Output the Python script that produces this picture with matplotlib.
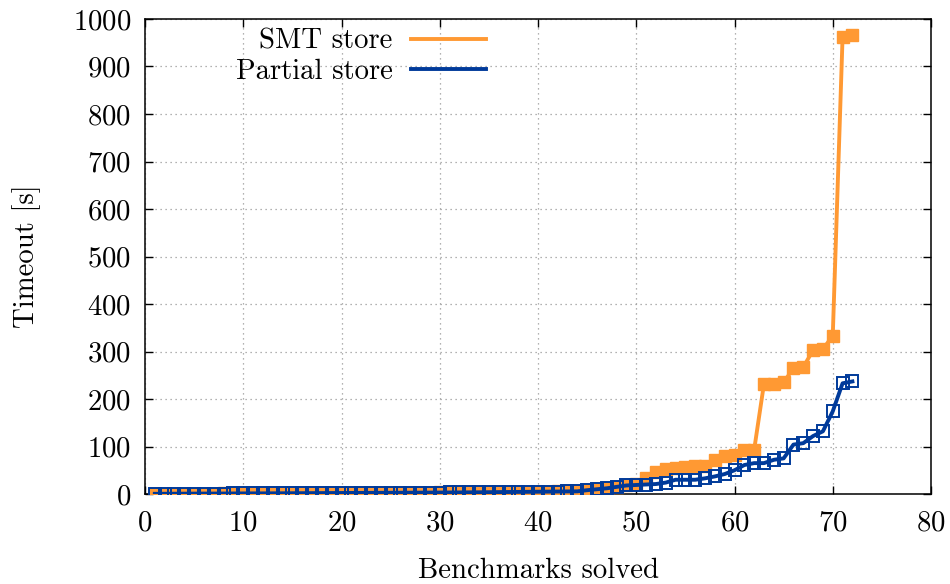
import matplotlib
matplotlib.use("Agg")
import matplotlib.pyplot as plt
import numpy as np

plt.rcParams['font.family'] = ['cmr10']
plt.rcParams['mathtext.fontset'] = 'cm'
plt.rcParams['axes.formatter.use_mathtext'] = True

benchmarks = list(range(1, 73))

smt_store = [0.5, 0.6, 0.7, 0.8, 0.9, 1.0, 1.0, 1.1, 1.2, 1.3,
             1.4, 1.5, 1.5, 1.6, 1.7, 1.8, 1.9, 2.0, 2.1, 2.2,
             2.3, 2.4, 2.5, 2.6, 2.7, 2.8, 2.9, 3.0, 3.1, 3.2,
             3.3, 3.5, 3.6, 3.8, 4.0, 4.2, 4.4, 4.6, 4.8, 5.0,
             5.2, 5.4, 5.6, 5.8, 6.5, 9, 12, 15, 19, 22,
             33, 47, 52, 54, 56, 58, 60, 72, 80, 83,
             93, 93, 232, 232, 235, 265, 267, 303, 305, 333,
             962, 967]

partial_store = [0.4, 0.5, 0.6, 0.7, 0.8, 0.9, 0.9, 1.0, 1.1, 1.2,
                 1.3, 1.3, 1.4, 1.5, 1.6, 1.7, 1.8, 1.9, 2.0, 2.1,
                 2.2, 2.3, 2.4, 2.5, 2.6, 2.7, 2.8, 2.9, 3.0, 3.1,
                 3.2, 3.3, 3.5, 3.6, 3.8, 4.0, 4.2, 4.4, 4.6, 4.8,
                 5.0, 5.2, 5.4, 5.6, 8, 10, 12, 15, 18, 19,
                 20, 21, 24, 30, 30, 30, 33, 37, 42, 50,
                 61, 65, 65, 72, 75, 104, 107, 122, 132, 174,
                 233, 237]

x_ticks = [0, 10, 20, 30, 40, 50, 60, 70, 80]
y_ticks = [0, 100, 200, 300, 400, 500, 600, 700, 800, 900, 1000]

orange = '#ff9933'
blue = '#003a9a'
fs = 20.7

fig = plt.figure(figsize=(9.5, 5.84), dpi=100)
ax = fig.add_axes([145/950, 90/584, 786/950, 475/584])

ax.plot(benchmarks, smt_store, color=orange, lw=2.8, marker='s', ms=8.5,
        mfc=orange, mec=orange, label='SMT store', zorder=3)
ax.plot(benchmarks, partial_store, color=blue, lw=2.8, marker='s', ms=9,
        mfc='none', mec=blue, mew=1.4, label='Partial store', zorder=4)

ax.set_xlim(0, 80)
ax.set_ylim(0, 1000)
ax.set_xticks(x_ticks)
ax.set_yticks(y_ticks)
ax.tick_params(direction='in', top=True, right=True, length=6, width=1,
               labelsize=fs)
ax.tick_params(axis='x', pad=12)
ax.tick_params(axis='y', pad=10)
ax.grid(True, linestyle=(0, (1, 3)), color='#999999', lw=0.9)
for s in ax.spines.values():
    s.set_linewidth(1.1)

ax.set_xlabel('Benchmarks solved', fontsize=fs, labelpad=15)
ax.set_ylabel('Timeout [s]', fontsize=fs, labelpad=23)

h = [plt.Line2D([], [], color=orange, lw=2.8), plt.Line2D([], [], color=blue, lw=2.8)]
leg = ax.legend(h, ['SMT store', 'Partial store'], loc='upper right',
                bbox_to_anchor=(348/786, 0.995), frameon=False, markerfirst=False,
                fontsize=fs, handlelength=2.6, handletextpad=0.65,
                labelspacing=0.12, borderpad=0.25, borderaxespad=0)

fig.savefig('out.png', dpi=100)
